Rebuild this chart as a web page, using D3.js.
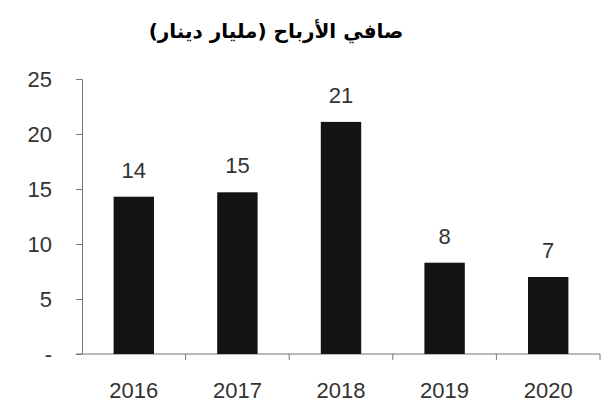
<!DOCTYPE html>
<html>
<head>
<meta charset="utf-8">
<script src="https://cdn.jsdelivr.net/npm/d3@7"></script>
<style>
  body { margin: 0; background: #fff; }
  svg { display: block; }
  .axis text { font-family: "Liberation Sans", Arial, sans-serif; font-size: 22px; fill: #333; }
  .axis path, .axis line { stroke: #777; }
</style>
</head>
<body>
<svg width="603" height="406"></svg>
<script>
const years = ["2016", "2017", "2018", "2019", "2020"];
const profit = [14.3, 14.7, 21.1, 8.3, 7.0];
const labels = ["14", "15", "21", "8", "7"];
const yTicks = [0, 5, 10, 15, 20, 25];

const svg = d3.select("svg");
const margin = { top: 79, right: 3, bottom: 52, left: 82 };
const width = 603 - margin.left - margin.right;
const height = 406 - margin.top - margin.bottom;

const g = svg.append("g").attr("transform", `translate(${margin.left},${margin.top})`);

const x = d3.scaleBand().domain(years).range([0, width]).paddingInner(0.61).paddingOuter(0.305);
const y = d3.scaleLinear().domain([0, 25]).range([height, 0]);

// title
svg.append("text")
  .attr("x", 276)
  .attr("y", 38)
  .attr("text-anchor", "middle")
  .attr("direction", "rtl")
  .style("font-family", "'DejaVu Sans', 'Noto Sans', sans-serif")
  .style("font-weight", "bold")
  .style("font-size", "20px")
  .text("صافي الأرباح (مليار دينار)");

// y axis
g.append("g")
  .attr("class", "axis")
  .call(d3.axisLeft(y).tickValues(yTicks).tickSize(6).tickPadding(24)
    .tickFormat(d => d === 0 ? "-" : d))
  .call(a => a.select(".domain").attr("d", `M-6,0.5H0.5V${height}`));

// x axis, ticks between categories
const xa = g.append("g")
  .attr("class", "axis")
  .attr("transform", `translate(0,${height})`);
xa.append("line").attr("x1", -6).attr("x2", width).attr("stroke", "#777");
xa.selectAll(".sep")
  .data(years)
  .join("line")
  .attr("x1", d => x(d) + x.bandwidth() / 2 + x.step() / 2)
  .attr("x2", d => x(d) + x.bandwidth() / 2 + x.step() / 2)
  .attr("y1", 0).attr("y2", 6)
  .attr("stroke", "#777");
xa.selectAll("text")
  .data(years)
  .join("text")
  .attr("x", d => x(d) + x.bandwidth() / 2)
  .attr("y", 44)
  .attr("text-anchor", "middle")
  .text(d => d);

// bars
g.selectAll(".bar")
  .data(years)
  .join("rect")
  .attr("x", d => x(d))
  .attr("y", (d, i) => y(profit[i]))
  .attr("width", x.bandwidth())
  .attr("height", (d, i) => height - y(profit[i]))
  .attr("fill", "#141414");

// value labels
g.selectAll(".lbl")
  .data(years)
  .join("text")
  .attr("x", d => x(d) + x.bandwidth() / 2)
  .attr("y", (d, i) => y(profit[i]) - 19)
  .attr("text-anchor", "middle")
  .style("font-family", "'Liberation Sans', Arial, sans-serif")
  .style("font-size", "22px")
  .style("fill", "#333")
  .text((d, i) => labels[i]);
</script>
</body>
</html>
